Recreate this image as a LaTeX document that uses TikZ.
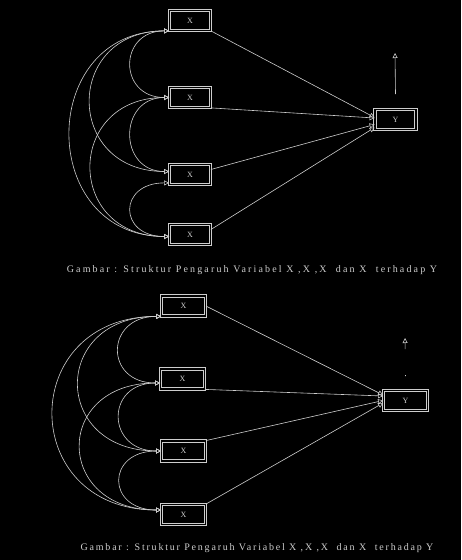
\documentclass[tikz,border=0pt]{standalone}
\usepackage{fontspec}
\setmainfont{Liberation Serif}
\newfontfamily\capfont[LetterSpace=18]{Liberation Serif}
\newfontfamily\capfontwide[LetterSpace=21.5]{Liberation Serif}
\usepackage{xcolor}
\definecolor{linegrey}{RGB}{205, 205, 205}
\usetikzlibrary{arrows.meta, positioning}

\begin{document}
\begin{tikzpicture}[
    x=1pt, y=-1pt,
    varbox/.style={rectangle, minimum width=41pt, minimum height=20pt, inner sep=0pt, draw=linegrey, double=black, double distance=1.6pt, line width=0.8pt, text=linegrey, font=\footnotesize},
    effect/.style={linegrey, line width=0.6pt, -{Triangle[open, length=5pt, width=5pt]}},
    corr/.style={linegrey, line width=0.6pt, {Triangle[open, length=5pt, width=5pt]}-{Triangle[open, length=5pt, width=5pt]}},
    captext/.style={text=linegrey, font=\capfont\fontsize{10}{12}\selectfont}
]
\fill [black] (0,0) rectangle (461,560);
\useasboundingbox (0,0) rectangle (461,560);

% Nodes (first figure)
\node (a1) [varbox] at (190,20.5) {X};
\node (a2) [varbox] at (190,97.5) {X};
\node (a3) [varbox] at (190,174.5) {X};
\node (a4) [varbox] at (190,234.5) {X};
\node (ay) [varbox] at (395.5,119.5) {Y};
\coordinate (ae) at (395,53);
\node (cap1) [captext, font=\capfontwide\fontsize{10}{12}\selectfont] at (252,270) {Gambar : Struktur Pengaruh Variabel X~,X~,X~~dan X~~terhadap Y};

% Arrows (first figure)
\draw [effect] (a1.south east) -- ([yshift=2pt]ay.west);
\draw [effect] (a2.south east) -- ([yshift=1.5pt]ay.west);
\draw [effect] ([yshift=5pt]a3.east) -- ([yshift=-5pt]ay.west);
\draw [effect] ([yshift=5pt]a4.east) -- ([yshift=-8pt]ay.west);
\draw [effect] ([yshift=15pt]ay.north) -- (ae);

% Correlations (first figure)
\draw [corr] (a1.south west) .. controls +(-51,0) and +(-51,0) .. (a2.west);
\draw [corr] (a1.south west) .. controls +(-105,0) and +(-105,0) .. ([yshift=3pt]a3.west);
\draw [corr] (a1.south west) .. controls +(-132,0) and +(-132,0) .. ([yshift=-2pt]a4.west);
\draw [corr] (a2.west) .. controls +(-51,0) and +(-51,0) .. ([yshift=3pt]a3.west);
\draw [corr] (a2.west) .. controls +(-104,0) and +(-104,0) .. ([yshift=-2pt]a4.west);
\draw [corr] ([yshift=2pt]a3.south west) .. controls +(-51,0) and +(-51,0) .. ([yshift=-2pt]a4.west);

% Nodes (second figure)
\node (b1) [varbox, minimum width=44pt] at (183.5,306) {X};
\node (b2) [varbox, minimum width=44pt] at (182.5,379) {X};
\node (b3) [varbox, minimum width=44pt] at (183.5,451) {X};
\node (b4) [varbox, minimum width=44pt] at (183.5,514.5) {X};
\node (by) [varbox, minimum width=44pt] at (405.5,400.5) {Y};
\coordinate (be) at (405,338);
\node (cap2) [captext] at (257,548) {Gambar : Struktur Pengaruh Variabel X~,X~,X~~dan X~~terhadap Y};

% Arrows (second figure)
\draw [effect] (b1.east) -- ([yshift=5.5pt]by.west);
\draw [effect] (b2.south east) -- ([yshift=4.5pt]by.west);
\draw [effect] (b3.north east) -- (by.west);
\draw [effect] (b4.north east) -- ([yshift=-2.5pt]by.west);
\draw [effect, dash pattern=on 1pt off 26pt on 11pt] ([yshift=14pt]by.north) -- (be);

% Correlations (second figure)
\draw [corr] (b1.south west) .. controls +(-56,0) and +(-56,0) .. ([yshift=-4pt]b2.west);
\draw [corr] (b1.south west) .. controls +(-110,0) and +(-110,0) .. (b3.west);
\draw [corr] (b1.south west) .. controls +(-144,0) and +(-144,0) .. ([yshift=4.5pt]b4.west);
\draw [corr] ([yshift=-4pt]b2.west) .. controls +(-55,0) and +(-55,0) .. (b3.west);
\draw [corr] ([yshift=-4pt]b2.west) .. controls +(-107,0) and +(-107,0) .. ([yshift=4.5pt]b4.west);
\draw [corr] (b3.west) .. controls +(-55,0) and +(-55,0) .. ([yshift=4.5pt]b4.west);

\end{tikzpicture}
\end{document}
